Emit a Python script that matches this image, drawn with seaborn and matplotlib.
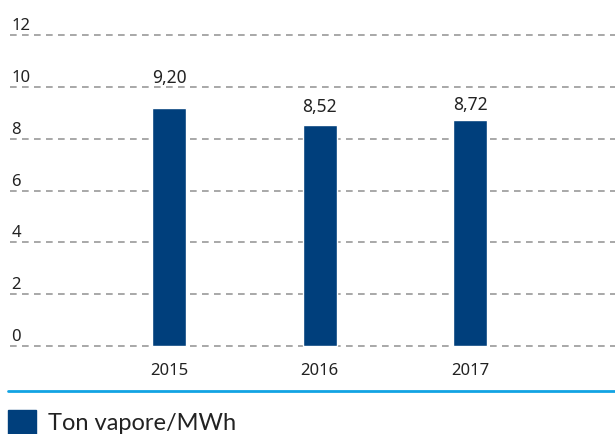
import matplotlib
matplotlib.use("Agg")
import matplotlib.pyplot as plt
import matplotlib.transforms as mtransforms
from matplotlib.patches import Rectangle
from matplotlib.lines import Line2D
import seaborn as sns
import pandas as pd

# Steam production per MWh
years = ["2015", "2016", "2017"]
values = [9.20, 8.52, 8.72]
value_labels = ["9,20", "8,52", "8,72"]
y_ticks = [0, 2, 4, 6, 8, 10, 12]
series_name = "Ton vapore/MWh"

BAR_COLOR = "#003f7c"
GRID_COLOR = "#9a9a9a"
TEXT_COLOR = "#222222"
NUM_FONT = ["Noto Sans", "DejaVu Sans"]

sns.set_theme(style="white")
plt.rcParams["font.family"] = ["Lato", "DejaVu Sans"]

df = pd.DataFrame({"year": years, "value": values})

fig = plt.figure(figsize=(6.15, 4.35), dpi=100)
ax = fig.add_axes([0.01626, 0.1903, 0.9837, 0.7389])

sns.barplot(data=df, x="year", y="value", color=BAR_COLOR, width=0.226,
            saturation=1, ax=ax, zorder=3)

ax.set_xlim(-1.057, 2.963)
ax.set_ylim(-0.2, 12.2)
ax.set_xlabel("")
ax.set_ylabel("")
for s in ax.spines.values():
    s.set_visible(False)

# dashed horizontal grid with labels sitting above each line
ax.set_yticks([])
lab_tr = mtransforms.blended_transform_factory(ax.transAxes, ax.transData)
for t in y_ticks:
    ax.axhline(t, color=GRID_COLOR, lw=1.2, ls=(0, (4, 3.2)), zorder=1,
               clip_on=False)
    ax.text(0.002, t, str(t), transform=lab_tr + mtransforms.ScaledTranslation(
        0, 6 / 100, fig.dpi_scale_trans), ha="left", va="baseline",
        fontsize=12, color=TEXT_COLOR, family=NUM_FONT)

ax.tick_params(axis="x", length=0, pad=8, labelsize=12, labelcolor=TEXT_COLOR)
for lbl in ax.get_xticklabels():
    lbl.set_family(NUM_FONT)

# value labels above bars
label_gaps = [26, 14, 11]
for i, (v, lab) in enumerate(zip(values, value_labels)):
    ax.annotate(lab, xy=(i, v), xytext=(0, label_gaps[i]),
                textcoords="offset pixels", ha="center", va="baseline",
                fontsize=12.5, color=TEXT_COLOR, family=NUM_FONT)

# separator line and legend
fig.add_artist(Line2D([8 / 615, 1.0], [43 / 435, 43 / 435],
                      transform=fig.transFigure, color="#12a3e3", lw=2))
fig.add_artist(Rectangle((8 / 615, -4 / 435), 28 / 615, 28 / 435,
                         transform=fig.transFigure, color=BAR_COLOR,
                         clip_on=False))
fig.text(48 / 615, 5 / 435, series_name, ha="left", va="baseline",
         fontsize=17, color=TEXT_COLOR)

fig.savefig("out.png", dpi=100, facecolor="white")
